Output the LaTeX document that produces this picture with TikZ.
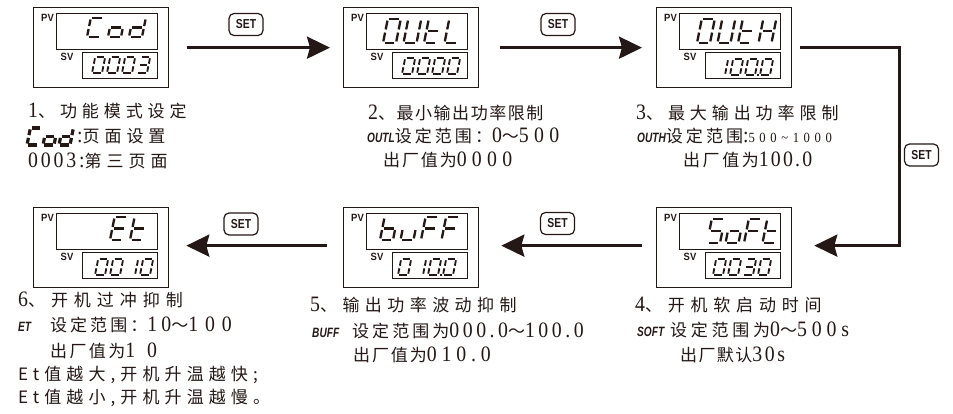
\documentclass[tikz,border=0pt]{standalone}
\usepackage{fontspec}
\usepackage{graphicx}
\usetikzlibrary{arrows.meta}
\setmainfont{Liberation Serif}
\newfontfamily\cjk{Noto Sans CJK SC}
\newfontfamily\ser[FakeStretch=0.9]{Liberation Serif}
\newfontfamily\sans{Liberation Sans}
\definecolor{ink}{RGB}{35,24,21}
\newcommand\zh[2]{{\cjk\addfontfeature{LetterSpace=#1}#2}}
\newcommand\nm[2]{{\ser\fontsize{22}{22}\selectfont\addfontfeature{LetterSpace=#1}#2}}
\newcommand\nms[2]{{\ser\fontsize{14}{14}\selectfont\addfontfeature{LetterSpace=#1}#2}}
\newcommand\lbl[1]{{\sans\bfseries\itshape\fontsize{13.5}{13.5}\selectfont\scalebox{0.75}[1]{#1}}}
% seven-segment pieces (slant written out: x + \S*y)
\def\S{0.2}
\def\segdrawa{\draw (\G+\S*\H,\H) -- (\W-\G+\S*\H,\H);}
\def\segdrawb{\draw (\W+\S*\H-\S*\G,\H-\G) -- (\W+\S*\H/2+\S*\G,\H/2+\G);}
\def\segdrawc{\draw (\W+\S*\H/2-\S*\G,\H/2-\G) -- (\W+\S*\G,\G);}
\def\segdrawd{\draw (\G,0) -- (\W-\G,0);}
\def\segdrawe{\draw (\S*\H/2-\S*\G,\H/2-\G) -- (\S*\G,\G);}
\def\segdrawf{\draw (\S*\H-\S*\G,\H-\G) -- (\S*\H/2+\S*\G,\H/2+\G);}
\def\segdrawg{\draw (\G+\S*\H/2,\H/2) -- (\W-\G+\S*\H/2,\H/2);}
\def\segdrawp{\fill (\W+\G+0.2,-1) rectangle ++(2.4,2.4);}
\def\segdrawn{}
\newcommand\sevrow[8]{%
  \begin{scope}[shift={(#1,#2)}, yscale=-1, line width=#7, draw=ink, fill=ink]
  \def\W{#3}\def\H{#4}\def\G{#5}%
  \foreach \chr [count=\k from 0] in {#8} {%
    \begin{scope}[shift={(\k*#6,0)}]
    \foreach \sg in \chr {\csname segdraw\sg\endcsname}
    \end{scope}}
  \end{scope}}
\tikzset{
  outerbox/.style={draw=ink, line width=1.3pt, minimum width=135pt, minimum height=80pt, inner sep=0pt},
  innerbox/.style={draw=ink, line width=1.1pt, inner sep=0pt},
  lab/.style={inner sep=0pt, text=ink, font=\sans\bfseries\fontsize{10.5}{10.5}\selectfont},
  setbtn/.style={draw=ink, line width=1.2pt, rounded corners=5pt, minimum width=34pt, minimum height=22pt, inner sep=0pt, text=ink, font=\sans\bfseries\fontsize{13}{13}\selectfont},
  txt/.style={anchor=west, inner sep=0pt, text=ink, font=\fontsize{17}{17}\selectfont},
  arr/.style={draw=ink, line width=3pt, line join=miter, -{Stealth[length=23pt,width=22pt,inset=3pt]}}
}
\newcommand\panel[3]{%
  \node[outerbox, anchor=north west] (#1) at (#2,#3) {};
  \node[innerbox, minimum width=101pt, minimum height=36pt, anchor=north west] (#1pv) at (#2+23,#3+6) {};
  \node[innerbox, minimum width=75pt, minimum height=26pt, anchor=north west] (#1sv) at (#2+49,#3+45) {};
  \node[lab] (#1pvl) at (#2+14.5,#3+10.5) {\scalebox{0.9}[1]{PV}};
  \node[lab] (#1svl) at (#2+34,#3+50) {\scalebox{0.9}[1]{SV}};
}
\begin{document}
\begin{tikzpicture}[x=1pt, y=-1pt]
\fill[white] (0,0) rectangle (953,414);
\useasboundingbox (0,0) rectangle (953,414);

% panels
\panel{p1}{33}{7}
\panel{p2}{343}{7}
\panel{p3}{656}{7}
\panel{p6}{33}{207}
\panel{p5}{343}{207}
\panel{p4}{656}{207}

% PV displays
\sevrow{87}{37}{13}{19}{1.5}{21}{2.3pt}{{a,f,e,d},{c,d,e,g},{b,c,d,e,g}}
\sevrow{383}{43}{13}{24}{1.6}{20.5}{2.3pt}{{a,b,c,d,e,f},{b,c,d,e,f},{d,e,f,g},{d,e,f}}
\sevrow{697}{43}{13}{24}{1.6}{20.5}{2.3pt}{{a,b,c,d,e,f},{b,c,d,e,f},{d,e,f,g},{b,c,e,f,g}}
\sevrow{110}{240}{13}{23}{1.6}{20}{2.3pt}{{a,d,e,f,g},{d,e,f,g}}
\sevrow{380}{240}{13}{23}{1.6}{20.5}{2.3pt}{{c,d,e,f,g},{c,d,e},{a,e,f,g},{a,e,f,g}}
\sevrow{707}{243}{13}{24}{1.6}{18.5}{2.3pt}{{a,f,g,c,d},{c,d,e,g},{a,e,f,g},{d,e,f,g}}

% SV displays
\sevrow{92}{73}{10}{16}{1.3}{15}{1.8pt}{{a,b,c,d,e,f},{a,b,c,d,e,f},{a,b,c,d,e,f},{a,b,g,c,d}}
\sevrow{402}{74}{10}{16}{1.3}{15}{1.8pt}{{a,b,c,d,e,f},{a,b,c,d,e,f},{a,b,c,d,e,f},{a,b,c,d,e,f}}
\sevrow{715}{75}{10}{16}{1.3}{15}{1.8pt}{{b,c},{a,b,c,d,e,f},{a,b,c,d,e,f,p},{a,b,c,d,e,f}}
\sevrow{95}{275}{10}{16}{1.3}{15}{1.8pt}{{a,b,c,d,e,f},{a,b,c,d,e,f},{b,c},{a,b,c,d,e,f}}
\sevrow{398}{275}{10}{16}{1.3}{15}{1.8pt}{{a,b,c,d,e,f},{b,c},{a,b,c,d,e,f,p},{a,b,c,d,e,f}}
\sevrow{713}{275}{10}{16}{1.3}{15}{1.8pt}{{a,b,c,d,e,f},{a,b,c,d,e,f},{a,b,g,c,d},{a,b,c,d,e,f}}

% connectors
\draw[arr, shorten <=18pt, shorten >=13pt] (p1.east) -- (p2.west);
\draw[arr, shorten <=21pt, shorten >=14pt] (p2.east) -- (p3.west);
\draw[arr, shorten <=8pt, shorten >=22pt] (p3.east) -- ++(107,0) |- ([yshift=2pt]p4.east);
\draw[arr, shorten <=14pt, shorten >=22pt] ([yshift=2pt]p4.west) -- ([yshift=2pt]p5.east);
\draw[arr, shorten <=16pt, shorten >=17pt] ([yshift=2pt]p5.west) -- ([yshift=2pt]p6.east);

% SET keys
\node[setbtn] (s1) at (246,24.5) {\scalebox{0.8}[1]{SET}};
\node[setbtn] (s2) at (558,24.5) {\scalebox{0.8}[1]{SET}};
\node[setbtn] (s3) at (921.5,155) {\scalebox{0.8}[1]{SET}};
\node[setbtn] (s4) at (557.5,223.5) {\scalebox{0.8}[1]{SET}};
\node[setbtn] (s5) at (241,224) {\scalebox{0.8}[1]{SET}};

% block 1
\node[txt] (t1a) at (28,111) {\nm{12}{1}\zh{29}{、功能模式设定}};
\sevrow{27}{145}{11}{17}{1.4}{16}{3.2pt}{{a,f,e,d},{c,d,e,g},{b,c,d,e,g}}
\node[txt] (t1b) at (77,136) {\nm{12}{:}\zh{29}{页面设置}};
\node[txt] (t1c) at (28,161) {\nm{13}{0003:}\zh{29}{第三页面}};

% block 2
\node[txt] (t2a) at (368,113) {\nm{6}{2}\zh{9}{、最小输出功率限制}};
\node[txt] (t2b) at (367,136) {\lbl{OUTL}\zh{18}{设定范围：}\nm{6}{0}\zh{0}{～}\nm{24}{500}};
\node[txt] (t2c) at (383,160) {\zh{11}{出厂值为}\nm{24}{0000}};

% block 3
\node[txt] (t3a) at (636,113) {\nm{12}{3}\zh{29}{、最大输出功率限制}};
\node[txt] (t3b) at (637,136) {\lbl{OUTH}\zh{18}{设定范围}\nm{4}{:}\nms{33}{500\textasciitilde1000}};
\node[txt] (t3c) at (683,160) {\zh{15}{出厂值为}\nm{10}{100.0}};

% block 4
\node[txt] (t4a) at (635,305) {\nm{12}{4}\zh{34}{、开机软启动时间}};
\node[txt] (t4b) at (637,330) {\lbl{SOFT}\hspace{6pt}\zh{22}{设定范围为}\nm{6}{0}\zh{0}{～}\nm{22}{500s}};
\node[txt] (t4c) at (680,355) {\zh{8}{出厂默认}\nm{12}{30s}};

% block 5
\node[txt] (t5a) at (310,305) {\nm{12}{5}\zh{32}{、输出功率波动抑制}};
\node[txt] (t5b) at (312,331) {\lbl{BUFF}\hspace{13pt}\zh{18}{设定范围为}\nm{16}{000.0}\zh{0}{～}\nm{16}{100.0}};
\node[txt] (t5c) at (353,355) {\zh{11}{出厂值为}\nm{22}{010.0}};

% block 6
\node[txt] (t6a) at (18,300) {\nm{12}{6}\zh{35}{、开机过冲抑制}};
\node[txt] (t6b) at (18,325) {\lbl{ET}\hspace{19pt}\zh{18}{设定范围：}\nm{19}{10}\zh{0}{～}\nm{31}{100}};
\node[txt] (t6c) at (50,351) {\zh{14}{出厂值为}\nm{54}{10}};
\node[txt] (t6d) at (18,375) {\zh{30}{Et值越大,开机升温越快;}};
\node[txt] (t6e) at (18,398) {\zh{30}{Et值越小,开机升温越慢。}};
\end{tikzpicture}
\end{document}
